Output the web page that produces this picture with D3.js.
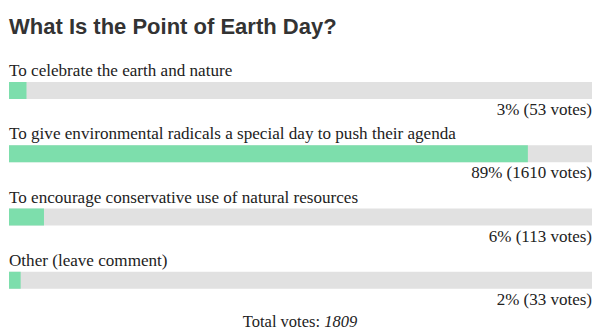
<!DOCTYPE html>
<html>
<head>
<meta charset="utf-8">
<script src="https://cdn.jsdelivr.net/npm/d3@7"></script>
<style>
  body { margin: 0; background: #fff; }
</style>
</head>
<body>
<svg id="chart"></svg>
<script>
// poll answers and results
const answers = [
  "To celebrate the earth and nature",
  "To give environmental radicals a special day to push their agenda",
  "To encourage conservative use of natural resources",
  "Other (leave comment)"
];
const percents = [3, 89, 6, 2];
const votes = [53, 1610, 113, 33];
const totalVotes = 1809;

const width = 600, height = 332;
const margin = { left: 9, right: 8 };

const svg = d3.select("#chart")
  .attr("width", width)
  .attr("height", height);

// title
svg.append("text")
  .attr("x", margin.left)
  .attr("y", 34)
  .style("font-family", "Liberation Sans, Arial, sans-serif")
  .style("font-weight", "bold")
  .style("font-size", "22px")
  .style("fill", "#333")
  .text("What Is the Point of Earth Day?");

const x = d3.scaleLinear()
  .domain([0, 100])
  .range([margin.left, width - margin.right]);

// one row per answer
const y = d3.scaleBand()
  .domain(d3.range(answers.length))
  .range([45, 298]);

const rows = answers.map((a, i) => ({ answer: a, pct: percents[i], votes: votes[i], i }));

const g = svg.selectAll("g.row")
  .data(rows)
  .enter()
  .append("g")
  .attr("class", "row")
  .attr("transform", d => `translate(0,${y(d.i)})`);

g.append("text")
  .attr("x", margin.left)
  .attr("y", 31)
  .style("font-family", "Liberation Serif, Times New Roman, serif")
  .style("font-size", "17.1px")
  .style("fill", "#222")
  .text(d => d.answer);

// gray track
g.append("rect")
  .attr("x", x(0))
  .attr("y", 37)
  .attr("width", x(100) - x(0))
  .attr("height", 17)
  .attr("fill", "#e1e1e1");

// green fill
g.append("rect")
  .attr("x", x(0))
  .attr("y", 37)
  .attr("width", d => x(d.pct) - x(0))
  .attr("height", 17)
  .attr("fill", "#7ddeac");

g.append("text")
  .attr("x", x(100))
  .attr("y", 70)
  .attr("text-anchor", "end")
  .style("font-family", "Liberation Serif, Times New Roman, serif")
  .style("font-size", "17px")
  .style("fill", "#222")
  .text(d => `${d.pct}% (${d.votes} votes)`);

// total
const total = svg.append("text")
  .attr("x", width / 2)
  .attr("y", 327)
  .attr("text-anchor", "middle")
  .style("font-family", "Liberation Serif, Times New Roman, serif")
  .style("font-size", "16.5px")
  .style("fill", "#222");
total.append("tspan").text("Total votes: ");
total.append("tspan").style("font-style", "italic").text(totalVotes);
</script>
</body>
</html>
